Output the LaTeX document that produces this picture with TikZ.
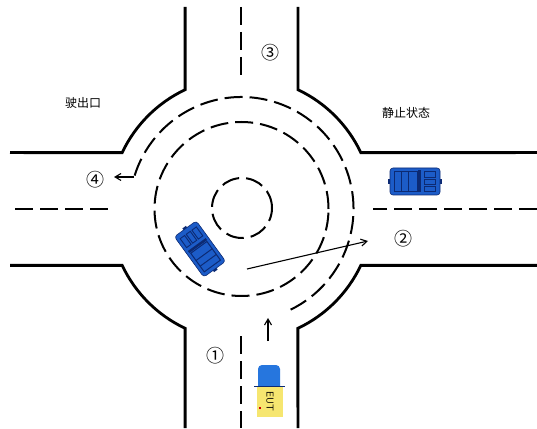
\documentclass[tikz,border=0pt]{standalone}
\usepackage{fontspec}
\newfontfamily\cjk{Noto Sans CJK SC}
\usetikzlibrary{arrows.meta}
\definecolor{carblue}{RGB}{28,92,200}
\definecolor{carline}{RGB}{12,42,115}
\definecolor{cabblue}{RGB}{38,118,222}
\definecolor{boxyellow}{RGB}{246,230,112}
\begin{document}
\begin{tikzpicture}[x=1pt,y=1pt,
  edge/.style={line width=2.8pt},
  lane/.style={line width=2.2pt, dash pattern=on 18pt off 7pt},
  ring/.style={line width=2pt, dash pattern=on 18pt off 7pt},
  move/.style={line width=1.1pt, -{Straight Barb[length=6pt,width=7pt,line width=1.1pt]}},
  cnum/.style={font=\cjk\fontsize{18}{18}\selectfont},
  zh/.style={font=\cjk\fontsize{12}{12}\selectfont},
  bluecar/.pic={
    \fill[carline] (-27,-2.2) rectangle (27,2.2);
    \fill[carblue, draw=carline, line width=0.6pt, rounded corners=3pt] (-25,-13.5) rectangle (25,13.5);
    \draw[carline, line width=1pt] (-21,-10) rectangle (2,10);
    \draw[carline, line width=1pt] (-14,-10) -- (-14,10) (-7,-10) -- (-7,10);
    \fill[carline] (3,-11) rectangle (5.5,11);
    \draw[carline, line width=0.9pt] (9,4.5) rectangle (20,10) (9,-2.5) rectangle (20,2.5) (9,-10) rectangle (20,-4.5);
  }
]
\useasboundingbox (0,0) rectangle (537,428);
\fill[white] (0,0) rectangle (537,428);

% roundabout centre
\coordinate (c) at (241.5,219);

% kerb lines of the four corners
\draw[edge] (185.1,421) -- (185.1,338.3) arc[start angle=115.3, end angle=154.7, radius=132] -- (10,275.4);
\draw[edge] (297.9,421) -- (297.9,338.3) arc[start angle=64.7, end angle=25.3, radius=132] -- (537,275.4);
\draw[edge] (10,162.6) -- (122.2,162.6) arc[start angle=205.3, end angle=244.7, radius=132] -- (185.1,0);
\draw[edge] (537,162.6) -- (360.8,162.6) arc[start angle=-25.3, end angle=-64.7, radius=132] -- (297.9,0);

% centre lines of the approach roads
\draw[lane] (241,421) -- (241,353);
\draw[lane] (241,92) -- (241,0);
\draw[lane] (15,219) -- (111,219);
\draw[lane] (537,219) -- (373,219);

% circulating lanes and central island
\draw[ring] (c) ++(-64:112) arc[start angle=-64, end angle=163, radius=112];
\draw[ring] (c) circle[radius=87];
\draw[ring] (242,220) circle[radius=30];

% vehicles
\pic (parked) at (415,246.5) {bluecar};
\pic[rotate=126] (circling) at (200,179) {bluecar};

\fill[cabblue] (258,41) [rounded corners=4pt] -- (258,63) -- (280,63) [sharp corners] -- (280,41) -- cycle;
\fill[boxyellow] (257,11) rectangle (283,41);
\draw[carline, line width=1pt] (254,41.5) -- (285,41.5);
\fill[red!80!black] (258.5,19) rectangle (260.5,21);
\node[rotate=-90, font=\sffamily\fontsize{10}{10}\selectfont] (eut) at (270,27) {EUT};

% movement arrows
\coordinate (pathA) at (247,159);
\coordinate (pathB) at (368,187);
\draw[move] (pathA) -- (pathB);
\coordinate (entryA) at (268,87);
\coordinate (entryB) at (268,110);
\draw[move] (entryA) -- (entryB);
\coordinate (exitA) at (134,251);
\coordinate (exitB) at (114,251);
\draw[move] (exitA) -- (exitB);

% labels
\node[cnum] (n1) at (215,72) {①};
\node[cnum] (n2) at (403,189) {②};
\node[cnum] (n3) at (270,375) {③};
\node[cnum] (n4) at (95,248) {④};
\node[zh] (out) at (83,325) {驶出口};
\node[zh] (stop) at (406,315) {静止状态};
\end{tikzpicture}
\end{document}
